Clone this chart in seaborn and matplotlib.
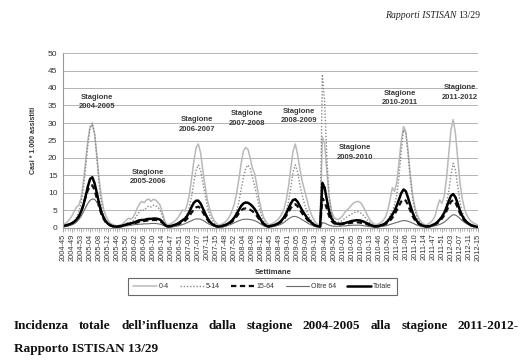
import numpy as np
import pandas as pd
import matplotlib
matplotlib.use("Agg")
import matplotlib.pyplot as plt
import seaborn as sns

sns.set_theme(style="white")
plt.rcParams['font.family'] = ['Liberation Sans', 'DejaVu Sans']

# ---------------- data ----------------
tick_labels = ["2004-45", "2004-49", "2004-53", "2005-04", "2005-08", "2005-12",
               "2005-46", "2005-50", "2006-02", "2006-06", "2006-10", "2006-14",
               "2006-47", "2006-51", "2007-03", "2007-07", "2007-11", "2007-15",
               "2007-48", "2007-52", "2008-04", "2008-08", "2008-12",
               "2008-45", "2008-49", "2009-01", "2009-05", "2009-09", "2009-13",
               "2009-46", "2009-50", "2010-01", "2010-05", "2010-09", "2010-13",
               "2010-46", "2010-50", "2011-02", "2011-06", "2011-10", "2011-14",
               "2011-47", "2011-51", "2012-03", "2012-07", "2012-11", "2012-15"]

gruppi = ["0-4", "5-14", "15-64", "Oltre 64", "Totale"]

inc_0_4 = [
    1.0, 1.3, 1.8, 2.5, 3.5, 4.8, 6.0, 6.5, 8.5, 13, 19, 25, 29, 29.5, 27, 21, 14, 9, 5.5, 3.5, 2.2, 1.4, 1.0, 0.8,
    0.6, 0.8, 1.0, 1.5, 2.2, 2.8, 2.5, 3.0, 4.2, 5.8, 7.0, 7.6, 7.2, 8.0, 8.3, 7.6, 8.2, 8.0, 7.4, 6.6, 4.5, 2.2, 1.0,
    1.0, 1.3, 1.7, 2.2, 3.0, 4.0, 5.2, 4.8, 6.5, 9.5, 14, 19, 23, 24, 21.5, 16.5, 12, 8, 5.5, 3.5, 2.2, 1.4,
    0.8, 1.0, 1.3, 1.8, 2.5, 3.5, 5.0, 7.0, 10, 14, 18.5, 22, 23, 22.5, 20, 17, 15.5, 12, 8, 5, 3, 1.8, 1.0,
    1.0, 1.3, 1.7, 2.3, 3.0, 4.0, 5.5, 8.0, 12, 17, 22, 24, 21, 17, 13.5, 11, 8.5, 6.0, 4.0, 2.6, 1.6, 1.0, 0.7,
    26, 24, 16, 9, 5, 3.2, 2.6, 2.4, 2.8, 3.5, 4.5, 5.2, 5.8, 6.6, 7.2, 7.5, 7.6, 7.2, 6.2, 5.0, 3.6, 2.4, 1.6, 1.1,
    1.0, 1.2, 1.6, 2.2, 3.2, 5.0, 8.0, 11.5, 10.5, 13, 19, 25, 29, 27.5, 22, 15, 9.5, 6.0, 3.8, 2.4, 1.6, 1.1, 0.8,
    1.2, 1.6, 2.3, 3.5, 6.0, 8.0, 7.0, 9.0, 14, 21, 28, 31, 27, 20, 13, 8.5, 5.5, 3.8, 2.6, 1.9, 1.4, 1.1, 0.9,
]
inc_5_14 = [
    0.5, 0.6, 0.8, 1.0, 1.4, 2.0, 3.0, 4.5, 7, 11, 17, 23.5, 28.5, 30, 27, 20, 12.5, 7, 3.8, 2.0, 1.2, 0.8, 0.5, 0.4,
    0.3, 0.4, 0.5, 0.8, 1.2, 1.6, 1.6, 2.0, 2.8, 3.8, 4.8, 5.3, 5.0, 5.8, 6.3, 6.0, 6.5, 6.4, 6.0, 5.2, 3.5, 1.8, 0.6,
    0.4, 0.5, 0.7, 1.0, 1.4, 1.9, 2.5, 2.8, 4.0, 6.0, 9.0, 13, 16.5, 18, 16.5, 13, 9.5, 6.2, 3.8, 2.4, 1.4, 0.8,
    0.3, 0.4, 0.6, 0.8, 1.1, 1.6, 2.3, 3.4, 5.0, 7.5, 11, 14.5, 17, 18, 17, 14.5, 12, 9.0, 6.0, 3.6, 2.0, 1.1, 0.6,
    0.4, 0.5, 0.7, 1.0, 1.4, 2.0, 3.0, 4.8, 7.5, 11.5, 16, 18, 16, 12.5, 9.5, 7.0, 5.0, 3.4, 2.2, 1.4, 0.9, 0.5, 0.3,
    43.5, 36, 20, 9, 4.5, 2.5, 1.8, 1.6, 1.8, 2.2, 2.8, 3.2, 3.6, 4.0, 4.4, 4.6, 4.6, 4.3, 3.7, 3.0, 2.2, 1.5, 1.0, 0.6,
    0.4, 0.5, 0.7, 1.0, 1.5, 2.3, 3.5, 5.0, 6.5, 9.5, 15, 22, 28, 27, 21, 14, 8.5, 5.0, 3.0, 1.8, 1.1, 0.7, 0.5,
    0.4, 0.5, 0.8, 1.2, 1.8, 2.5, 3.3, 4.5, 7, 10.5, 15, 18.5, 16.5, 12, 7.5, 4.5, 2.8, 1.8, 1.2, 0.8, 0.6, 0.4, 0.3,
]
inc_15_64 = [
    0.5, 0.6, 0.8, 1.0, 1.3, 1.7, 2.3, 3.2, 4.5, 6.5, 8.8, 10.8, 12.0, 12.2, 10.8, 8.5, 6.0, 4.0, 2.6, 1.6, 1.0, 0.7, 0.5, 0.3,
    0.3, 0.4, 0.5, 0.6, 0.8, 1.0, 1.1, 1.2, 1.4, 1.6, 1.8, 1.9, 2.0, 2.1, 2.2, 2.2, 2.3, 2.3, 2.2, 2.0, 1.5, 0.9, 0.4,
    0.4, 0.5, 0.6, 0.8, 1.0, 1.3, 1.7, 2.0, 2.6, 3.4, 4.4, 5.3, 5.9, 6.1, 5.6, 4.5, 3.4, 2.4, 1.6, 1.0, 0.7, 0.5,
    0.3, 0.4, 0.5, 0.7, 0.9, 1.3, 1.8, 2.5, 3.3, 4.2, 5.0, 5.5, 5.6, 5.5, 5.2, 4.8, 4.2, 3.4, 2.5, 1.6, 1.0, 0.6, 0.4,
    0.5, 0.6, 0.8, 1.0, 1.4, 1.9, 2.6, 3.5, 4.6, 5.7, 6.5, 6.8, 6.2, 5.2, 4.2, 3.4, 2.6, 1.9, 1.3, 0.9, 0.6, 0.4, 0.3,
    8.5, 7.5, 5.5, 3.4, 2.0, 1.4, 1.1, 1.0, 1.0, 1.1, 1.2, 1.3, 1.4, 1.5, 1.6, 1.6, 1.6, 1.5, 1.4, 1.2, 1.0, 0.8, 0.6, 0.4,
    0.4, 0.5, 0.6, 0.8, 1.1, 1.5, 2.1, 2.9, 3.9, 5.1, 6.4, 7.6, 8.2, 7.8, 6.5, 4.9, 3.4, 2.3, 1.5, 1.0, 0.7, 0.5, 0.4,
    0.4, 0.5, 0.7, 1.0, 1.4, 2.0, 2.7, 3.6, 4.8, 6.2, 7.5, 8.0, 7.3, 5.8, 4.2, 2.9, 2.0, 1.4, 1.0, 0.7, 0.5, 0.4, 0.3,
]
inc_oltre_64 = [
    0.3, 0.4, 0.5, 0.7, 0.9, 1.2, 1.7, 2.4, 3.3, 4.5, 5.8, 7.0, 7.9, 8.3, 8.2, 7.4, 6.0, 4.3, 2.8, 1.7, 1.0, 0.6, 0.4, 0.3,
    0.2, 0.3, 0.4, 0.5, 0.6, 0.7, 0.8, 0.9, 1.0, 1.0, 1.1, 1.1, 1.2, 1.2, 1.2, 1.3, 1.3, 1.3, 1.2, 1.1, 0.9, 0.6, 0.3,
    0.3, 0.3, 0.4, 0.5, 0.6, 0.8, 1.0, 1.2, 1.5, 1.8, 2.1, 2.4, 2.6, 2.6, 2.5, 2.2, 1.8, 1.4, 1.0, 0.7, 0.5, 0.3,
    0.2, 0.3, 0.4, 0.5, 0.7, 0.9, 1.2, 1.5, 1.8, 2.1, 2.3, 2.5, 2.5, 2.5, 2.4, 2.3, 2.1, 1.8, 1.4, 1.0, 0.6, 0.4, 0.2,
    0.3, 0.4, 0.5, 0.7, 0.9, 1.2, 1.6, 2.1, 2.6, 3.0, 3.3, 3.3, 3.1, 2.8, 2.4, 2.0, 1.6, 1.2, 0.9, 0.6, 0.4, 0.3, 0.2,
    1.5, 1.4, 1.1, 0.8, 0.6, 0.5, 0.5, 0.5, 0.5, 0.6, 0.6, 0.7, 0.7, 0.8, 0.8, 0.8, 0.8, 0.8, 0.7, 0.6, 0.5, 0.4, 0.3, 0.2,
    0.3, 0.3, 0.4, 0.5, 0.6, 0.8, 1.0, 1.2, 1.4, 1.6, 1.8, 2.0, 2.1, 2.1, 1.9, 1.7, 1.4, 1.1, 0.8, 0.6, 0.4, 0.3, 0.2,
    0.3, 0.4, 0.5, 0.6, 0.8, 1.0, 1.3, 1.7, 2.2, 2.8, 3.4, 3.8, 3.7, 3.3, 2.7, 2.1, 1.6, 1.2, 0.9, 0.6, 0.4, 0.3, 0.2,
]
inc_totale = [
    0.6, 0.7, 0.9, 1.1, 1.4, 1.8, 2.4, 3.3, 4.6, 6.5, 9.0, 11.8, 14.0, 14.5, 12.8, 10.0, 7.0, 4.6, 3.0, 1.9, 1.2, 0.8, 0.5, 0.4,
    0.4, 0.5, 0.6, 0.8, 1.0, 1.2, 1.3, 1.5, 1.7, 2.0, 2.2, 2.3, 2.3, 2.5, 2.6, 2.6, 2.7, 2.7, 2.6, 2.4, 1.8, 1.0, 0.5,
    0.5, 0.6, 0.8, 1.0, 1.3, 1.7, 2.2, 2.6, 3.4, 4.5, 6.0, 7.2, 7.8, 7.8, 7.0, 5.6, 4.2, 2.9, 1.9, 1.2, 0.8, 0.5,
    0.4, 0.5, 0.7, 0.9, 1.2, 1.6, 2.2, 3.0, 4.0, 5.2, 6.3, 7.0, 7.3, 7.2, 6.8, 6.2, 5.4, 4.3, 3.1, 2.0, 1.2, 0.7, 0.4,
    0.6, 0.7, 0.9, 1.2, 1.6, 2.2, 3.1, 4.2, 5.6, 7.0, 8.0, 8.2, 7.5, 6.3, 5.1, 4.1, 3.1, 2.3, 1.6, 1.1, 0.7, 0.5, 0.4,
    12.9, 11.5, 8.0, 4.8, 2.8, 1.8, 1.3, 1.2, 1.2, 1.3, 1.4, 1.6, 1.8, 2.0, 2.1, 2.2, 2.2, 2.1, 1.9, 1.6, 1.3, 1.0, 0.7, 0.5,
    0.5, 0.6, 0.8, 1.0, 1.4, 2.0, 2.8, 3.8, 4.9, 6.4, 8.2, 10.0, 11.0, 10.5, 8.6, 6.4, 4.4, 2.9, 1.9, 1.2, 0.8, 0.6, 0.4,
    0.5, 0.6, 0.9, 1.2, 1.7, 2.4, 3.2, 4.3, 5.8, 7.6, 9.2, 9.7, 8.8, 7.0, 5.0, 3.5, 2.4, 1.7, 1.2, 0.8, 0.6, 0.4, 0.3,
]

stagioni = ["2004-2005", "2005-2006", "2006-2007", "2007-2008",
            "2008-2009", "2009-2010", "2010-2011", "2011-2012"]

# ---------------- layout / styles ----------------
stag_x = [15.1, 37.8, 59.4, 81.6, 104.7, 129.5, 149.4, 176.0]
stag_y = [36.0, 14.6, 29.6, 31.3, 32.0, 21.6, 37.1, 38.7]

palette = {"0-4": "#b9b9b9", "5-14": "#8a8a8a", "15-64": "#111111",
           "Oltre 64": "#6a6a6a", "Totale": "#000000"}
dashes = {"0-4": "", "5-14": (1, 1.3), "15-64": (2.4, 1.6),
          "Oltre 64": "", "Totale": ""}
sizes = {"0-4": 1.1, "5-14": 1.0, "15-64": 1.6, "Oltre 64": 0.8, "Totale": 1.8}

series = [inc_0_4, inc_5_14, inc_15_64, inc_oltre_64, inc_totale]
n = len(inc_totale)
frames = []
for g, vals in zip(gruppi, series):
    frames.append(pd.DataFrame({"settimana": np.arange(len(vals)),
                                "casi": vals, "gruppo": g}))
df = pd.concat(frames, ignore_index=True)

W, H = 524, 362
fig = plt.figure(figsize=(W / 100, H / 100), dpi=100)
fig.patch.set_facecolor("white")
ax = fig.add_axes([63 / W, 1 - 228 / H, 415 / W, 175 / H])

sns.lineplot(data=df, x="settimana", y="casi", hue="gruppo", style="gruppo",
             size="gruppo", hue_order=gruppi, style_order=gruppi,
             size_order=gruppi, palette=palette, dashes=dashes, sizes=sizes,
             estimator=None, ax=ax, legend="full")

ax.set_xlim(0, n - 1)
ax.set_ylim(0, 50)
ax.set_yticks(np.arange(0, 51, 5))
ax.yaxis.grid(True, color="#b4b4b4", linewidth=0.7)
ax.set_axisbelow(True)
for s in ["top", "right"]:
    ax.spines[s].set_visible(False)
ax.spines["left"].set_color("#999999")
ax.spines["bottom"].set_color("#999999")
ax.spines["left"].set_linewidth(0.8)
ax.spines["bottom"].set_linewidth(0.8)

major = np.arange(0, n, 4)
ax.set_xticks(major)
ax.set_xticklabels(tick_labels[:len(major)], rotation=90, fontsize=5.3, color="#333333")
ax.set_xticks(np.arange(n), minor=True)
ax.tick_params(axis="x", which="major", length=3, width=0.5, color="#888888", pad=1, bottom=True)
ax.tick_params(axis="x", which="minor", length=2, width=0.4, color="#888888", bottom=True)
ax.tick_params(axis="y", labelsize=6, colors="#333333", length=0, pad=4)
ax.set_xlabel("")
ax.set_ylabel("Casi * 1.000 assistiti", fontsize=5, fontweight="bold", color="#333333")
ax.yaxis.set_label_coords(-0.063, 0.5)

for s, x, y in zip(stagioni, stag_x, stag_y):
    ax.text(x, y, "Stagione\n" + s, ha="center", va="center", fontsize=5.5,
            fontweight="bold", color="#3a3a3a", linespacing=1.45)

fig.text(273 / W, 1 - 272 / H, "Settimane", ha="center", va="center",
         fontsize=5.5, fontweight="bold", color="#333333")

handles, labels = ax.get_legend_handles_labels()
hl = [(h, l) for h, l in zip(handles, labels) if l in gruppi]
ax.get_legend().remove()
leg = fig.legend([h for h, _ in hl], [l for _, l in hl], loc="center",
                 bbox_to_anchor=(262.5 / W, 1 - 286.5 / H), ncol=5,
                 fontsize=5, handlelength=3.4, handletextpad=0.3,
                 columnspacing=1.6, frameon=True, fancybox=False,
                 edgecolor="#444444", borderpad=0.7)
leg.get_frame().set_linewidth(0.8)
for t in leg.get_texts():
    t.set_color("#333333")

# header
serif = ["Liberation Serif", "DejaVu Serif"]
r = fig.canvas.get_renderer()
t_num = fig.text(480 / W, 1 - 15 / H, "13/29", ha="right", va="center",
                 fontsize=7, family=serif, color="#222222")
wnum = t_num.get_window_extent(r).width
fig.text((480 - wnum - 2) / W, 1 - 15 / H, "Rapporti ISTISAN", ha="right",
         va="center", fontsize=7, family=serif, style="italic", color="#222222")

# caption (justified first line)
cap1 = "Incidenza totale dell\u2019influenza dalla stagione 2004-2005 alla stagione 2011-2012-"
words = cap1.split()
objs = [fig.text(0, 1 - 326 / H, w, ha="left", va="center", fontsize=9.5,
                 family=serif, fontweight="bold", color="#111111") for w in words]
widths = [o.get_window_extent(r).width for o in objs]
x0, x1 = 14, 519
gap = (x1 - x0 - sum(widths)) / (len(words) - 1)
xx = x0
for o, w in zip(objs, widths):
    o.set_x(xx / W)
    xx += w + gap
fig.text(14 / W, 1 - 349 / H, "Rapporto ISTISAN 13/29", ha="left", va="center",
         fontsize=9.5, family=serif, fontweight="bold", color="#111111")

fig.savefig("out.png", dpi=100, facecolor="white")
